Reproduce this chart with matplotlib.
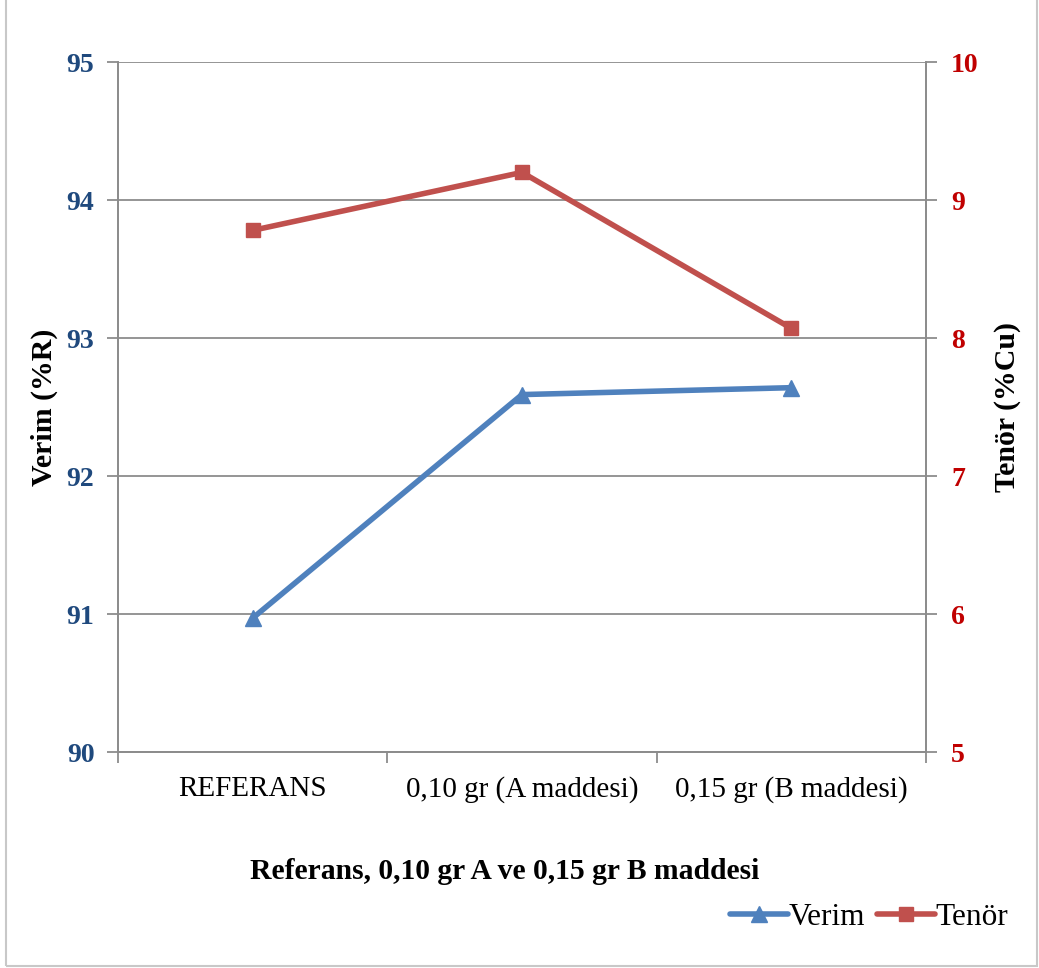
import matplotlib.pyplot as plt
from matplotlib.patches import Rectangle

categories = ["REFERANS", "0,10 gr (A maddesi)", "0,15 gr (B maddesi)"]
verim = [90.97, 92.59, 92.64]
tenor = [8.78, 9.20, 8.07]
left_ticks = [90, 91, 92, 93, 94, 95]
right_ticks = [5, 6, 7, 8, 9, 10]

plt.rcParams["font.family"] = ["Liberation Serif", "DejaVu Serif"]

fig = plt.figure(figsize=(10.39, 9.68), dpi=100)
ax = fig.add_axes([118 / 1039, 1 - 752 / 968, (926 - 118) / 1039, (752 - 62) / 968])
ax2 = ax.twinx()

x = list(range(len(categories)))
grid_c = "#8c8c8c"

ax.set_ylim(90, 95)
ax.set_xlim(-0.5, len(categories) - 0.5)
ax.set_yticks(left_ticks)
ax.yaxis.grid(True, color=grid_c, lw=1.3)
ax.set_axisbelow(True)
ax.set_xticks([i + 0.5 for i in range(-1, len(categories))])
ax.set_xticklabels([])
ax.set_xticks(x, minor=True)
ax.set_xticklabels(categories, minor=True, fontsize=21)
ax.tick_params(axis="x", which="major", length=8, color=grid_c, width=1.3)
ax.tick_params(axis="x", which="minor", length=0, pad=17)
ax.tick_params(axis="y", length=8, color=grid_c, width=1.3, labelsize=20,
               labelcolor="#1f497d", pad=9)
for lab in ax.get_yticklabels():
    lab.set_fontweight("bold")

ax2.set_ylim(5, 10)
ax2.set_yticks(right_ticks)
ax2.tick_params(axis="y", length=8, color=grid_c, width=1.3, labelsize=20,
                labelcolor="#c00000", pad=10)
for lab in ax2.get_yticklabels():
    lab.set_fontweight("bold")

for a in (ax, ax2):
    a.spines["top"].set_visible(False)
    for s in ("left", "right", "bottom"):
        a.spines[s].set_color(grid_c)
        a.spines[s].set_linewidth(1.3)

l1, = ax.plot(x, verim, color="#4f81bd", lw=4, marker="^", markersize=11,
              label="Verim", solid_capstyle="round")
l2, = ax2.plot(x, tenor, color="#c0504d", lw=4, marker="s", markersize=10,
               label="Tenör", solid_capstyle="round")

ax.set_ylabel("Verim (%R)", fontsize=21.5, fontweight="bold")
ax.yaxis.set_label_coords((58 - 118) / 808, 0.5)
ax2.set_ylabel("Tenör (%Cu)", fontsize=21.5, fontweight="bold")
ax2.yaxis.set_label_coords((994 - 118) / 808, 0.5)
ax.set_xlabel("Referans, 0,10 gr A ve 0,15 gr B maddesi", fontsize=21.3,
              fontweight="bold")
ax.xaxis.set_label_coords((505 - 118) / 808, -(858 - 752) / 690)

fig.legend(handles=[l1, l2], loc="center right", bbox_to_anchor=(0.997, 0.052),
           ncol=2, frameon=False, fontsize=22.5, handlelength=1.85,
           handletextpad=0.0, columnspacing=0.4)

fig.patches.append(Rectangle((0.006, 0.002), 0.992, 1.2, transform=fig.transFigure,
                             fill=False, edgecolor="#c8c8c8", lw=1.5))

fig.savefig("out.png", dpi=100)
